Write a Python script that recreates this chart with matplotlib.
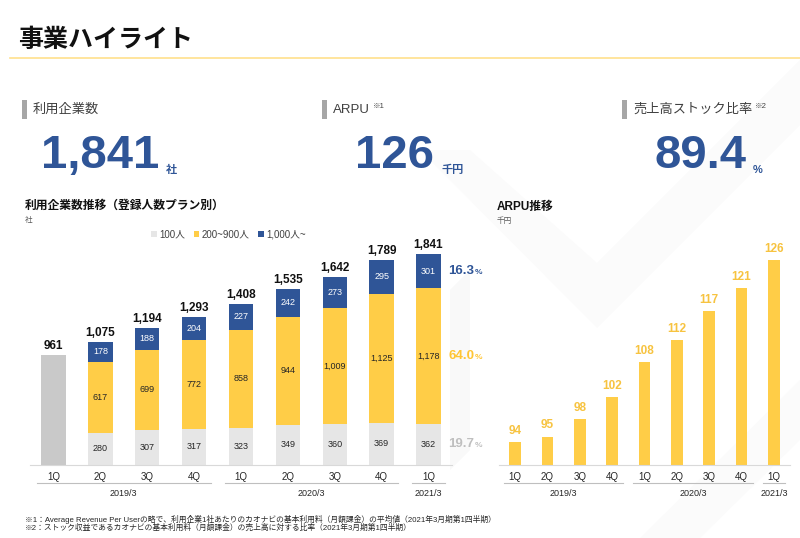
import matplotlib
matplotlib.use("Agg")
import matplotlib.pyplot as plt
from matplotlib.patches import Rectangle, Polygon
import matplotlib.transforms as mtrans

plt.rcParams['font.family'] = ['Liberation Sans', 'Noto Sans CJK JP', 'DejaVu Sans']

# ---- data ----
quarters = ['1Q', '2Q', '3Q', '4Q', '1Q', '2Q', '3Q', '4Q', '1Q']
fiscal_years = ['2019/3', '2020/3', '2021/3']
year_sizes = [4, 4, 1]
users_100 = [0, 280, 307, 317, 323, 349, 360, 369, 362]
users_200_900 = [0, 617, 699, 772, 858, 944, 1009, 1125, 1178]
users_1000 = [0, 178, 188, 204, 227, 242, 273, 295, 301]
totals = [961, 1075, 1194, 1293, 1408, 1535, 1642, 1789, 1841]
plan_names = ['100人', '200~900人', '1,000人~']
plan_shares = ['16.3', '64.0', '19.7']
arpu = [94, 95, 98, 102, 108, 112, 117, 121, 126]

kpi_labels = ['利用企業数', 'ARPU', '売上高ストック比率']
kpi_notes = ['', '※1', '※2']
kpi_values = ['1,841', '126', '89.4']
kpi_units = ['社', '千円', '%']

BLUE = '#2F5597'
YELLOW = '#FFCD47'
LGREY = '#E6E6E6'
DGREY = '#C9C9C9'
TXT = '#262626'

W, H = 800, 538
fig = plt.figure(figsize=(8, 5.38), dpi=100)

def fx(px):
    return px / W

def fy(py):
    return 1 - py / H

# faint background chevrons
bg = fig.add_axes([0, 0, 1, 1], zorder=-5)
bg.set_xlim(0, W)
bg.set_ylim(H, 0)
bg.axis('off')
bg.add_patch(Polygon([(420, 150), (597, 328), (800, 125), (800, 60), (597, 263), (470, 150)],
                     closed=True, color='#FBFBFB', lw=0))
bg.add_patch(Polygon([(640, 538), (800, 380), (800, 440), (700, 538)],
                     closed=True, color='#FBFBFB', lw=0))
bg.add_patch(Polygon([(450, 290), (470, 270), (470, 450), (450, 470)],
                     closed=True, color='#F9F9F9', lw=0))
bg.plot([10, 800], [58, 58], color='#FFE08C', lw=1.2)

fig.text(fx(18), fy(40), '事業ハイライト', fontsize=18, fontweight='bold',
         color='#111111', va='center', ha='left')

# ---- KPI headline ----
kpi_x = [22, 322, 622]
num_x = [100, 395, 700]
for i in range(3):
    bg.add_patch(Rectangle((kpi_x[i], 100), 5, 19, color='#A6A6A6', lw=0))
    t = fig.text(fx(kpi_x[i] + 11), fy(110), kpi_labels[i], fontsize=9.5,
                 color='#404040', va='center', ha='left')
    if kpi_notes[i]:
        plt.annotate(kpi_notes[i], xy=(1, 0.5), xycoords=t, xytext=(2, 0),
                     textcoords='offset points', fontsize=5.5, color='#404040',
                     va='bottom', ha='left')
    n = fig.text(fx(num_x[i]), fy(156), kpi_values[i], fontsize=34,
                 fontweight='bold', color=BLUE, va='center', ha='center')
    plt.annotate(kpi_units[i], xy=(1, 0), xycoords=n, xytext=(5, 2),
                 textcoords='offset points', fontsize=8, fontweight='bold',
                 color=BLUE, va='bottom', ha='left')

x = list(range(len(quarters)))

def add_year_groups(ax, line_y, label_y, fontsize):
    trans = mtrans.blended_transform_factory(ax.transData, ax.transAxes)
    start = 0
    for name, size in zip(fiscal_years, year_sizes):
        a = start - 0.35
        b = start + size - 1 + 0.35
        ax.plot([a, b], [line_y, line_y], color='#BFBFBF', lw=0.8,
                transform=trans, clip_on=False)
        ax.text((a + b) / 2, label_y, name, transform=trans, fontsize=fontsize,
                ha='center', va='center', color=TXT)
        start += size

# ---- left chart: users by plan ----
fig.text(fx(25), fy(206), '利用企業数推移（登録人数プラン別）', fontsize=8.5,
         fontweight='bold', color='#111111', va='center')
fig.text(fx(25), fy(220), '社', fontsize=5.5, color='#595959', va='center')

axL = fig.add_axes([fx(30), fy(465), fx(422), 225 / H])
bw = 0.52
xs = x[1:]
b1 = axL.bar(xs, users_100[1:], bw, color=LGREY, label=plan_names[0])
b2 = axL.bar(xs, users_200_900[1:], bw, bottom=users_100[1:], color=YELLOW,
             label=plan_names[1])
bot3 = [a + b for a, b in zip(users_100, users_200_900)]
b3 = axL.bar(xs, users_1000[1:], bw, bottom=bot3[1:], color=BLUE,
             label=plan_names[2])
axL.bar(x[0], totals[0], bw, color=DGREY)

for i in xs:
    axL.text(i, users_100[i] / 2, f'{users_100[i]:,}', ha='center', va='center',
             fontsize=6.5, color=TXT)
    axL.text(i, users_100[i] + users_200_900[i] / 2, f'{users_200_900[i]:,}',
             ha='center', va='center', fontsize=6.5, color=TXT)
    axL.text(i, bot3[i] + users_1000[i] / 2, f'{users_1000[i]:,}', ha='center',
             va='center', fontsize=6.5, color='white')
for i in x:
    axL.text(i, totals[i] + 25, f'{totals[i]:,}', ha='center', va='bottom',
             fontsize=8.5, fontweight='bold', color='#111111')

last = len(x) - 1
share_y = [bot3[last] + users_1000[last] / 2,
           users_100[last] + users_200_900[last] / 2,
           users_100[last] / 2]
share_c = [BLUE, '#FFC533', '#BFBFBF']
for val, yv, c in zip(plan_shares, share_y, share_c):
    t = axL.text(last + 0.42, yv, val, ha='left', va='center', fontsize=9.5,
                 fontweight='bold', color=c)
    axL.annotate('%', xy=(1, 0), xycoords=t, xytext=(0.5, 1),
                 textcoords='offset points', fontsize=6, fontweight='bold',
                 color=c, va='bottom', ha='left')

axL.set_xlim(-0.5, 8.5)
axL.set_ylim(0, 1963)
axL.set_xticks(x, quarters)
axL.tick_params(axis='x', length=0, pad=5, labelsize=7, labelcolor=TXT)
axL.set_yticks([])
for s in ['top', 'right', 'left']:
    axL.spines[s].set_visible(False)
axL.spines['bottom'].set_color('#D9D9D9')
axL.patch.set_alpha(0)
add_year_groups(axL, -0.08, -0.125, 6.5)

axL.legend(handles=[b1, b2, b3], loc='lower center', bbox_to_anchor=(0.47, 0.965),
           ncol=3, frameon=False, fontsize=7, handlelength=0.6,
           handleheight=0.6, handletextpad=0.2, columnspacing=0.9,
           labelcolor='#404040')

# ---- right chart: ARPU ----
fig.text(fx(497), fy(207), 'ARPU推移', fontsize=8.5, fontweight='bold',
         color='#111111', va='center')
fig.text(fx(497), fy(221), '千円', fontsize=5.5, color='#595959', va='center')

axR = fig.add_axes([fx(499), fy(465), fx(291), 225 / H])
axR.bar(x, arpu, 0.37, color=YELLOW)
for i in x:
    axR.text(i, arpu[i] + 0.9, str(arpu[i]), ha='center', va='bottom',
             fontsize=8.5, fontweight='bold', color='#F7C340')
axR.set_xlim(-0.5, 8.5)
axR.set_ylim(90, 129.5)
axR.set_xticks(x, quarters)
axR.tick_params(axis='x', length=0, pad=5, labelsize=7, labelcolor=TXT)
axR.set_yticks([])
for s in ['top', 'right', 'left']:
    axR.spines[s].set_visible(False)
axR.spines['bottom'].set_color('#D9D9D9')
axR.patch.set_alpha(0)
add_year_groups(axR, -0.08, -0.125, 6.5)

# ---- footnotes ----
fig.text(fx(25), fy(519), '※1：Average Revenue Per Userの略で、利用企業1社あたりのカオナビの基本利用料（月額課金）の平均値（2021年3月期第1四半期）',
         fontsize=5.6, color=TXT, va='center')
fig.text(fx(25), fy(528), '※2：ストック収益であるカオナビの基本利用料（月額課金）の売上高に対する比率（2021年3月期第1四半期）',
         fontsize=5.6, color=TXT, va='center')

fig.savefig('out.png', dpi=100)
